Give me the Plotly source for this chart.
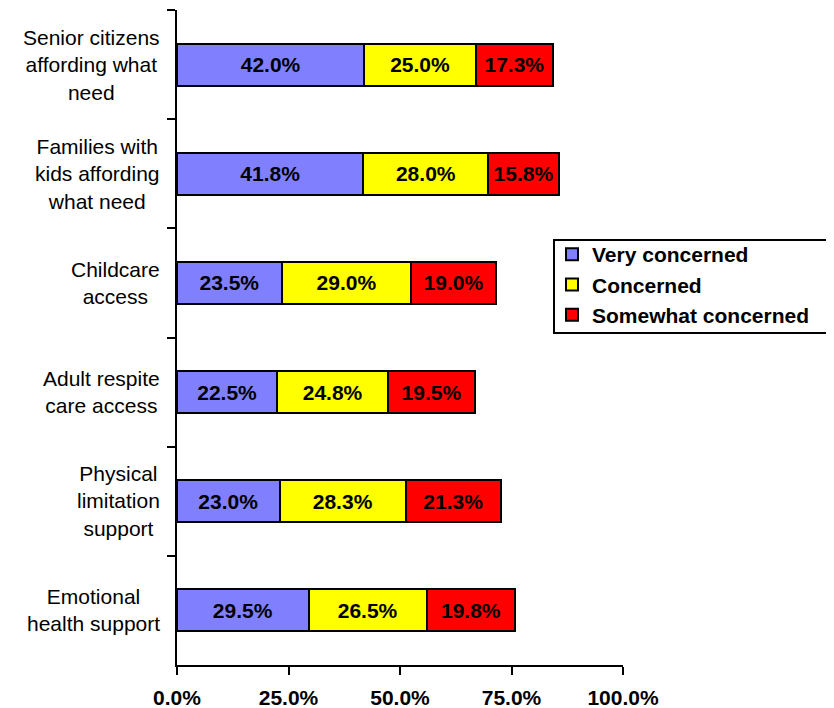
import plotly.graph_objects as go

categories = [
    "Senior citizens<br>affording what<br>need",
    "Families with<br>kids affording<br>what need",
    "Childcare<br>access",
    "Adult respite<br>care access",
    "Physical<br>limitation<br>support",
    "Emotional<br>health support",
]
very_concerned = [42.0, 41.8, 23.5, 22.5, 23.0, 29.5]
concerned = [25.0, 28.0, 29.0, 24.8, 28.3, 26.5]
somewhat_concerned = [17.3, 15.8, 19.0, 19.5, 21.3, 19.8]
series_names = ["Very concerned", "Concerned", "Somewhat concerned"]
series_colors = ["#8080FF", "#FFFF00", "#FF0000"]
x_ticks = [0, 25, 50, 75, 100]
x_tick_labels = ["0.0%", "25.0%", "50.0%", "75.0%", "100.0%"]

FONT = "Liberation Sans, Arial, sans-serif"

fig = go.Figure()
for name, vals, col in zip(series_names, [very_concerned, concerned, somewhat_concerned], series_colors):
    fig.add_trace(go.Bar(
        y=categories, x=vals, name=name, orientation="h",
        marker=dict(color=col, line=dict(color="black", width=2)),
        texttemplate="%{x:.1f}%", textposition="inside",
        insidetextanchor="middle", textangle=0, constraintext="none",
        textfont=dict(family=FONT, size=21, color="black", weight="bold"),
    ))

for c in categories:
    fig.add_annotation(
        x=0, xref="paper", y=c, yref="y", xanchor="right", yanchor="middle",
        xshift=-15, text=c, showarrow=False, align="center",
        font=dict(family=FONT, size=21, color="black"),
    )

# legend frame
fig.add_shape(
    type="rect", xref="paper", yref="paper",
    x0=0.8453, x1=1.4664, y0=0.5069, y1=0.6489,
    line=dict(color="black", width=2), fillcolor="white", layer="above",
)

fig.update_layout(
    width=834, height=708,
    margin=dict(l=169, r=219, t=2, b=51, autoexpand=False),
    barmode="stack", bargap=0.615,
    paper_bgcolor="white", plot_bgcolor="white",
    font=dict(family=FONT, color="black"),
    legend=dict(
        x=0.8408, y=0.658, xanchor="left", yanchor="top",
        borderwidth=0, bgcolor="rgba(0,0,0,0)",
        font=dict(family=FONT, size=21, color="black", weight="bold"),
        traceorder="normal",
    ),
    xaxis=dict(
        range=[0, 100], tickvals=x_ticks, ticktext=x_tick_labels,
        showgrid=False, zeroline=False, showline=True, linecolor="black", linewidth=2,
        ticks="outside", ticklen=8, tickwidth=2, tickcolor="black",
        tickfont=dict(family=FONT, size=21, color="black", weight="bold"),
        ticklabelstandoff=5, automargin=False,
    ),
    yaxis=dict(
        autorange="reversed", showticklabels=False, showgrid=False, zeroline=False,
        showline=True, linecolor="black", linewidth=2, automargin=False,
        ticks="outside", ticklen=8, tickwidth=2, tickcolor="black", tickson="boundaries",
    ),
)

fig.write_html("out.html")
